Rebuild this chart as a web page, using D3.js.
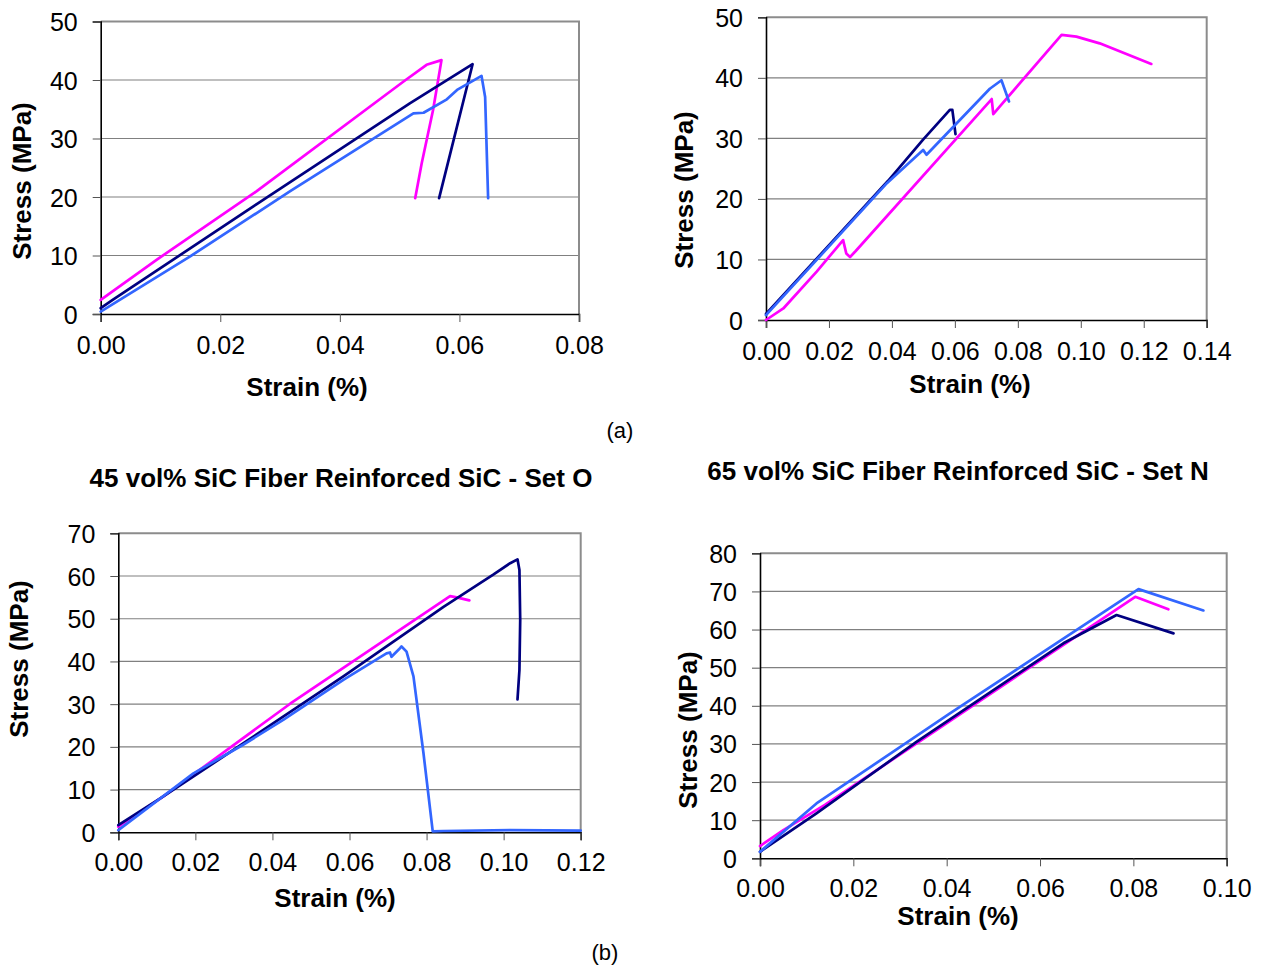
<!DOCTYPE html>
<html><head><meta charset="utf-8">
<script src="https://cdn.jsdelivr.net/npm/d3@7"></script>
<style>body{margin:0;background:#fff}svg{display:block}text{font-family:"Liberation Sans",Arial,sans-serif;fill:#000}</style>
</head><body>
<script>
// ---------- data ----------
const colors = {magenta:"#FF00FF", navy:"#000080", blue:"#3366FF"};

// Panel (a) left
const a1XTicks = [0,0.02,0.04,0.06,0.08];
const a1YTicks = [0,10,20,30,40,50];
const a1Magenta = [[0,2.4],[0.0094,9.3],[0.0261,21.0],[0.0506,39.7],[0.0545,42.6],[0.057,43.4],[0.0556,34.9],[0.0537,25.8],[0.0526,19.8]];
const a1Navy = [[0,1.0],[0.002,2.4],[0.0261,18.8],[0.0517,36.0],[0.0622,42.7],[0.0566,19.8]];
const a1Blue = [[0,0.4],[0.0149,9.8],[0.0317,21.0],[0.0523,34.3],[0.054,34.4],[0.0579,36.7],[0.0596,38.3],[0.0637,40.7],[0.0643,37.1],[0.0648,19.8]];

// Panel (a) right
const a2XTicks = [0,0.02,0.04,0.06,0.08,0.10,0.12,0.14];
const a2YTicks = [0,10,20,30,40,50];
const a2Magenta = [[0,0],[0.0055,1.9],[0.0161,8.0],[0.0245,13.2],[0.0255,11.0],[0.0267,10.4],[0.0285,11.4],[0.0717,36.5],[0.0722,34.0],[0.0743,35.3],[0.0939,47.1],[0.0986,46.8],[0.106,45.7],[0.1224,42.3]];
const a2Navy = [[0,1.0],[0.0388,23.0],[0.0499,29.8],[0.0584,34.7],[0.0592,34.7],[0.0602,30.7]];
const a2Blue = [[0,0.8],[0.0384,22.6],[0.0499,28.1],[0.051,27.3],[0.0711,38.2],[0.0748,39.6],[0.0772,36.1]];

// Panel (b) left
const b1Title = "45 vol% SiC Fiber Reinforced SiC - Set O";
const b1XTicks = [0,0.02,0.04,0.06,0.08,0.10,0.12];
const b1YTicks = [0,10,20,30,40,50,60,70];
const b1Magenta = [[0,1.3],[0.0117,8.4],[0.0446,30.1],[0.0861,55.3],[0.0878,55.0],[0.0911,54.3]];
const b1Navy = [[0,1.7],[0.0117,8.4],[0.0324,20.8],[0.0584,36.5],[0.0844,52.8],[0.0973,60.3],[0.1017,63.0],[0.1036,63.9],[0.1041,61.4],[0.1043,49.7],[0.1041,38.0],[0.1036,31.1]];
const b1Blue = [[0,0.5],[0.0195,13.8],[0.0324,20.5],[0.0428,26.3],[0.0584,35.7],[0.0696,41.9],[0.0705,42.1],[0.0709,41.1],[0.0731,43.1],[0.0735,43.5],[0.0748,42.3],[0.0766,36.5],[0.0792,18.5],[0.0816,0.2],[0.0844,0.3],[0.1017,0.5],[0.12,0.4]];

// Panel (b) right
const b2Title = "65 vol% SiC Fiber Reinforced SiC - Set N";
const b2XTicks = [0,0.02,0.04,0.06,0.08,0.10];
const b2YTicks = [0,10,20,30,40,50,60,70,80];
const b2Blue = [[0,1.7],[0.0121,14.4],[0.0407,38.0],[0.0811,70.6],[0.095,65.0]];
const b2Magenta = [[0,3.2],[0.005,7.4],[0.0139,14.0],[0.0804,68.6],[0.0875,65.3]];
const b2Navy = [[0,1.7],[0.0121,11.8],[0.0336,30.6],[0.065,56.4],[0.0764,63.8],[0.0886,59.0]];

// ---------- drawing ----------
const W = 1262, H = 965;
const svg = d3.select("body").append("svg").attr("width", W).attr("height", H);

function panel(cfg){
  const x = d3.scaleLinear().domain(cfg.xDomain).range([cfg.left, cfg.right]);
  const y = d3.scaleLinear().domain(cfg.yDomain).range([cfg.bottom, cfg.top]);
  const g = svg.append("g");
  g.append("g").selectAll("line").data(cfg.yTicks.filter(t => t > cfg.yDomain[0] && t < cfg.yDomain[1]))
    .join("line").attr("x1", cfg.left).attr("x2", cfg.right)
    .attr("y1", d => y(d)).attr("y2", d => y(d))
    .attr("stroke", "#808080").attr("stroke-width", 1.2);
  g.append("path").attr("d", `M${cfg.left},${cfg.top}H${cfg.right}V${cfg.bottom}`)
    .attr("fill", "none").attr("stroke", "#8c8c8c").attr("stroke-width", 2);
  const xAxis = d3.axisBottom(x).tickValues(cfg.xTicks).tickSize(8).tickFormat(d3.format(".2f"));
  const yAxis = d3.axisLeft(y).tickValues(cfg.yTicks).tickSize(8).tickFormat(d3.format("d"));
  const gx = g.append("g").attr("transform", `translate(0,${cfg.bottom})`).call(xAxis);
  const gy = g.append("g").attr("transform", `translate(${cfg.left},0)`).call(yAxis);
  [gx, gy].forEach(a => {
    a.select(".domain").attr("stroke", "#000").attr("stroke-width", 1.6);
    a.selectAll(".tick line").attr("stroke", "#555").attr("stroke-width", 1);
    a.selectAll("text").attr("font-family", '"Liberation Sans", Arial, sans-serif')
      .attr("font-size", 25).attr("fill", "#000");
  });
  gx.selectAll(".tick text").attr("y", cfg.xLabelDy).attr("dy", 0);
  gy.selectAll(".tick text").attr("x", -cfg.yLabelDx).attr("dy", "0.36em");
  const line = d3.line().x(d => x(d[0])).y(d => y(d[1])).curve(d3.curveLinear);
  cfg.series.forEach(s => {
    g.append("path").datum(s.data).attr("d", line).attr("fill", "none")
      .attr("stroke", s.color).attr("stroke-width", 2.7).attr("stroke-linejoin", "round").attr("stroke-linecap", "round");
  });
  g.append("text").attr("x", cfg.xTitle[0]).attr("y", cfg.xTitle[1]).attr("text-anchor", "middle")
    .attr("font-size", 26).attr("font-weight", "bold").text("Strain (%)");
  g.append("text").attr("transform", `translate(${cfg.yTitle[0]},${cfg.yTitle[1]}) rotate(-90)`)
    .attr("text-anchor", "middle").attr("dy", "0.36em")
    .attr("font-size", 26).attr("font-weight", "bold").text("Stress (MPa)");
  if (cfg.title) {
    g.append("text").attr("x", cfg.title[0]).attr("y", cfg.title[1]).attr("text-anchor", "middle")
      .attr("font-size", 26).attr("font-weight", "bold").text(cfg.titleText);
  }
}

panel({left:100.7, right:579, top:21.5, bottom:314, xDomain:[0,0.08], yDomain:[0,50],
  xTicks:a1XTicks, yTicks:a1YTicks, xLabelDy:40, yLabelDx:23,
  xTitle:[307,396], yTitle:[22,181],
  series:[{data:a1Magenta,color:colors.magenta},{data:a1Navy,color:colors.navy},{data:a1Blue,color:colors.blue}]});

panel({left:766, right:1206.7, top:17.3, bottom:320, xDomain:[0,0.14], yDomain:[0,50],
  xTicks:a2XTicks, yTicks:a2YTicks, xLabelDy:40, yLabelDx:23,
  xTitle:[970,393], yTitle:[684,190],
  series:[{data:a2Magenta,color:colors.magenta},{data:a2Navy,color:colors.navy},{data:a2Blue,color:colors.blue}]});

panel({left:118.3, right:580.7, top:533.3, bottom:832.3, xDomain:[0,0.12], yDomain:[0,70],
  xTicks:b1XTicks, yTicks:b1YTicks, xLabelDy:39, yLabelDx:23,
  xTitle:[335,907], yTitle:[19,659], title:[341,487], titleText:b1Title,
  series:[{data:b1Magenta,color:colors.magenta},{data:b1Navy,color:colors.navy},{data:b1Blue,color:colors.blue}]});

panel({left:760, right:1226.7, top:553.3, bottom:858.3, xDomain:[0,0.10], yDomain:[0,80],
  xTicks:b2XTicks, yTicks:b2YTicks, xLabelDy:39, yLabelDx:23,
  xTitle:[958,925], yTitle:[688,730], title:[958,480], titleText:b2Title,
  series:[{data:b2Magenta,color:colors.magenta},{data:b2Navy,color:colors.navy},{data:b2Blue,color:colors.blue}]});

svg.append("text").attr("x", 620).attr("y", 438).attr("text-anchor", "middle").attr("font-size", 22).text("(a)");
svg.append("text").attr("x", 605).attr("y", 960).attr("text-anchor", "middle").attr("font-size", 22).text("(b)");
</script>
</body></html>
